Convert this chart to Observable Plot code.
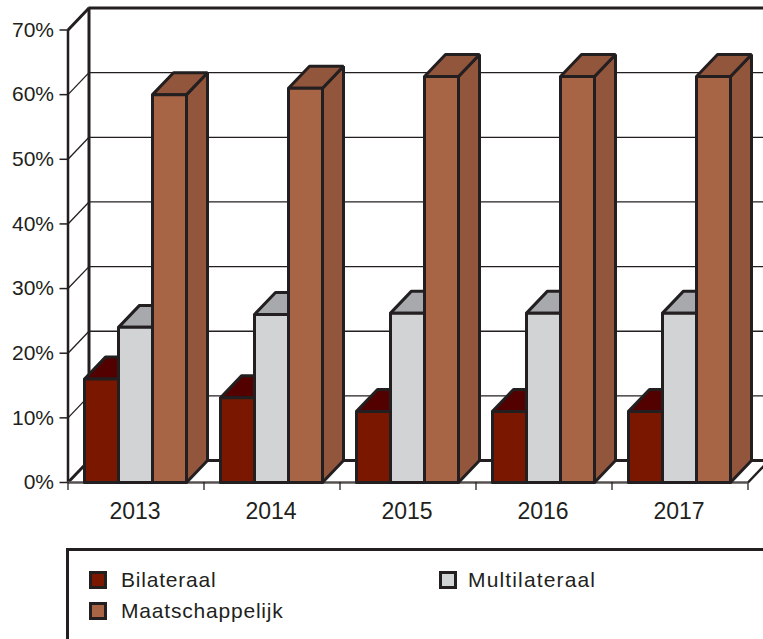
<!DOCTYPE html>
<html><head><meta charset="utf-8">
<script src="https://cdn.jsdelivr.net/npm/d3@7"></script>
<script src="https://cdn.jsdelivr.net/npm/@observablehq/plot@0.6"></script>
<style>
html,body{margin:0;padding:0;background:#fff;overflow:hidden;width:763px;height:639px}
#chart svg{display:block;background:#fff}
#legend{position:relative;margin-left:66px;height:120px;border-top:3px solid #231f20;border-left:3px solid #231f20;font:21px "Liberation Sans",sans-serif;letter-spacing:.8px;color:#231f20;box-sizing:border-box}
#legend .it{position:absolute;display:flex;align-items:center;line-height:22px;white-space:nowrap}
#legend i{display:block;width:18px;height:18px;box-sizing:border-box;border:3px solid #231f20;margin-right:14px}
</style></head><body>
<div id="chart"></div><div id="legend"></div>
<script>
const years = [2013, 2014, 2015, 2016, 2017];
const seriesNames = ["Bilateraal", "Multilateraal", "Maatschappelijk"];
const bilateraal = [16, 13.1, 11, 11, 11];
const multilateraal = [24, 26, 26.2, 26.2, 26.2];
const maatschappelijk = [60, 61, 62.8, 62.8, 62.8];
const yTicks = [0, 10, 20, 30, 40, 50, 60, 70];

const frontColors = ["#7a1700", "#d1d3d4", "#a86546"];
const topColors = ["#520000", "#a7a9ac", "#92563c"];
const sideColors = ["#520000", "#a7a9ac", "#92563c"];
const ink = "#231f20";

// projection depth of the 3D box, in scale units
const depthX = 21 / 136, depthY = 3.4;
const barW = 34 / 136, barStart = 16.5 / 136;
const seriesValues = [bilateraal, multilateraal, maatschappelijk];

const faces = [];
let fid = 0;
function face(pts, color) {
  const id = fid++;
  for (const [x, y] of [...pts, pts[0]]) faces.push({x, y, id, color});
}
years.forEach((yr, i) => {
  seriesValues.forEach((vals, s) => {
    const v = vals[i], x0 = i + barStart + s * barW, x1 = x0 + barW;
    const bx = depthX, by = depthY;
    face([[x1, 0], [x1 + bx, by], [x1 + bx, v + by], [x1, v]], sideColors[s]);
    face([[x0, v], [x1, v], [x1 + bx, v + by], [x0 + bx, v + by]], topColors[s]);
    face([[x0, 0], [x1, 0], [x1, v], [x0, v]], frontColors[s]);
  });
});

const xEnd = years.length;
const wallTop = 70 + depthY;
const grid = yTicks.slice(1, -1);

const H = 548;
const plot = Plot.plot({
  width: 763, height: H,
  marginLeft: 67.5, marginRight: 15.5, marginTop: 29.5, marginBottom: H - 482,
  x: {domain: [0, xEnd], label: null},
  y: {domain: [0, 70], label: null},
  color: {type: "identity"},
  style: {overflow: "hidden"},
  marks: [
    Plot.ruleY(grid, {y: d => d + depthY, x1: depthX, x2: xEnd + 1, stroke: ink, strokeWidth: 1.3}),
    Plot.link(grid, {x1: 0, y1: d => d, x2: depthX, y2: d => d + depthY, stroke: ink, strokeWidth: 1.3}),
    Plot.ruleY([wallTop], {x1: depthX, x2: xEnd + 1, stroke: ink, strokeWidth: 3}),
    Plot.ruleY([depthY], {x1: depthX, x2: xEnd + 1, stroke: ink, strokeWidth: 3}),
    Plot.ruleX([0], {y1: 0, y2: 70, stroke: ink, strokeWidth: 2.5}),
    Plot.ruleX([depthX], {y1: depthY, y2: wallTop, stroke: ink, strokeWidth: 3}),
    Plot.link([0, 70], {x1: 0, y1: d => d, x2: depthX, y2: d => d + depthY, stroke: ink, strokeWidth: 3}),
    Plot.link([xEnd], {x1: d => d, y1: 0, x2: d => d + depthX, y2: depthY, stroke: ink, strokeWidth: 2.5}),
    Plot.ruleY([0], {x1: 0, x2: xEnd, stroke: "#55514f", strokeWidth: 2.5}),
    Plot.line(faces, {x: "x", y: "y", z: "id", fill: "color", stroke: ink, strokeWidth: 3, strokeLinejoin: "miter"}),
    Plot.axisY({ticks: yTicks, tickFormat: d => d + "%", tickSize: 8, tickPadding: 6, stroke: ink, strokeWidth: 1.5,
      fontSize: 21, fill: ink, fontFamily: "Liberation Sans", label: null}),
    Plot.axisX({ticks: d3.range(0, xEnd + 1), tickFormat: () => "", tickSize: 8, stroke: ink, strokeWidth: 1.3, label: null}),
    Plot.text(years, {x: (d, i) => i + 0.5, y: 0, text: d => String(d), dx: -1, dy: 29, fontSize: 23,
      fill: ink, fontFamily: "Liberation Sans", lineAnchor: "middle", textAnchor: "middle"})
  ]
});
document.getElementById("chart").append(plot);

const legendPos = [[20, 18], [370, 18], [20, 49]];
const legendGap = [14, 11, 14];
const legendSpacing = [0.8, 1.15, 0.8];
const leg = document.getElementById("legend");
seriesNames.forEach((n, i) => {
  const d = document.createElement("div");
  d.className = "it";
  d.style.left = legendPos[i][0] + "px";
  d.style.top = legendPos[i][1] + "px";
  d.style.letterSpacing = legendSpacing[i] + "px";
  const sw = document.createElement("i");
  sw.style.background = frontColors[i];
  sw.style.marginRight = legendGap[i] + "px";
  d.append(sw, document.createTextNode(n));
  leg.append(d);
});
</script>
</body></html>
